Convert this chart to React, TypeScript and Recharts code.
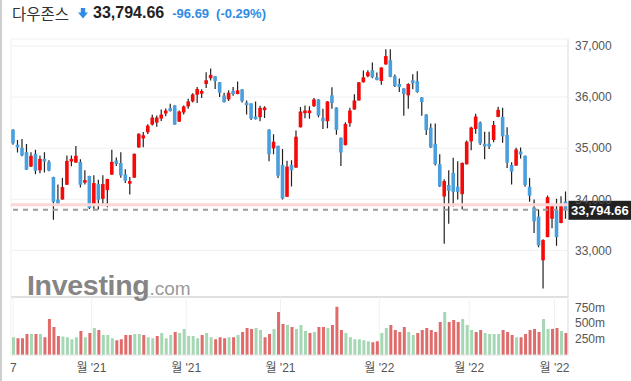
import React from 'react'
import { ComposedChart, Bar, XAxis, YAxis, CartesianGrid, ReferenceLine, Cell } from 'recharts'

// daily Dow Jones candles, Sep 7 2021 .. Mar 3 2022
const OPEN = [
  35363, 35068, 35008, 34923, 34640, 34890, 34568, 34791, 34732, 34436,
  33996, 33996, 34285, 34739, 34719, 34732, 34325, 34456, 33911, 34298,
  34009, 34180, 34482, 34759, 34712, 34489, 34305, 34423, 35015, 35192,
  35311, 35462, 35501, 35580, 35679, 35784, 35837, 35521, 35698, 35817,
  35915, 36047, 36067, 36257, 36369, 36408, 36290, 36034, 35955, 36119,
  36060, 36152, 35896, 35876, 35620, 35606, 35744, 35363, 34995, 35048,
  34673, 34049, 34673, 34620, 35409, 35685, 35685, 35823, 35955, 35593,
  35528, 36034, 35797, 35205, 35061, 35488, 35758, 35935, 36290, 36408,
  36527, 36388, 36316, 36639, 36724, 36408, 36257, 36172, 36034, 36330,
  36310, 35994, 35659, 35403, 35087, 34686, 34055, 34279, 34515, 34246,
  34101, 34686, 35133, 35377, 35501, 35087, 35087, 35160, 35613, 35613,
  35258, 34673, 34660, 34936, 34851, 34246, 33838, 33661, 32806, 33260,
  33621, 33786, 33536, 33957,
]
const HIGH = [
  35370, 35160, 35179, 35081, 34923, 34969, 34857, 34923, 34765, 34440,
  34292, 34417, 34857, 34857, 35041, 34785, 34568, 34460, 34469, 34384,
  34469, 34400, 34969, 34818, 34923, 34588, 34436, 34895, 35290, 35317,
  35469, 35653, 35640, 35758, 35777, 35869, 35840, 35738, 35837, 35968,
  36073, 36198, 36152, 36487, 36560, 36412, 36295, 36086, 36132, 36198,
  36303, 36156, 35935, 35880, 35915, 35830, 35823, 35370, 35271, 35050,
  34982, 34752, 34765, 35344, 35804, 35837, 35823, 35981, 35960, 35771,
  35920, 36191, 35800, 35210, 35508, 35790, 36054, 36295, 36520, 36526,
  36678, 36481, 36585, 36934, 36934, 36441, 36362, 36175, 36270, 36448,
  36507, 36000, 35665, 35482, 35482, 34883, 34390, 34568, 34811, 34745,
  34720, 35153, 35422, 35672, 35521, 35324, 35324, 35534, 35810, 35790,
  35409, 34726, 35008, 35015, 34855, 34417, 33996, 33799, 33220, 34075,
  33911, 34009, 34062, 34154,
]
const LOW = [
  35068, 34916, 34844, 34575, 34634, 34489, 34509, 34522, 34548, 33602,
  33890, 33990, 34280, 34647, 34715, 34233, 34292, 33812, 33779, 33799,
  33884, 33845, 34478, 34653, 34423, 34318, 34095, 34420, 35010, 35021,
  35278, 35442, 35422, 35534, 35626, 35720, 35460, 35515, 35659, 35771,
  35896, 35883, 35981, 36178, 36323, 36159, 36001, 35896, 35922, 36027,
  36055, 35896, 35659, 35554, 35562, 35528, 35593, 34745, 34883, 34417,
  33996, 34045, 34252, 34615, 35405, 35587, 35574, 35804, 35606, 35377,
  35390, 35771, 35265, 34653, 35055, 35422, 35752, 35930, 36285, 36388,
  36369, 36330, 36244, 36635, 36390, 36198, 36100, 35633, 35771, 36152,
  36086, 35633, 35258, 35002, 34660, 34239, 33128, 33523, 33858, 33996,
  33799, 34680, 34962, 35284, 35061, 34785, 34982, 35114, 35608, 35107,
  34614, 34292, 34655, 34798, 34246, 33950, 33339, 33063, 32254, 33255,
  33431, 33089, 33530, 33621,
]
const CLOSE = [
  35094, 35015, 34857, 34581, 34851, 34561, 34791, 34739, 34561, 33950,
  33898, 34239, 34752, 34791, 34851, 34285, 34377, 33832, 34318, 33990,
  34298, 34397, 34732, 34693, 34469, 34364, 34357, 34890, 35284, 35252,
  35442, 35600, 35600, 35659, 35738, 35725, 35462, 35718, 35817, 35915,
  36054, 36159, 36119, 36330, 36435, 36316, 36086, 35902, 36086, 36060,
  36132, 35922, 35843, 35580, 35567, 35790, 35797, 34883, 35127, 34463,
  34016, 34640, 34568, 35225, 35718, 35738, 35738, 35955, 35639, 35528,
  35915, 35883, 35357, 34916, 35475, 35738, 35935, 36290, 36388, 36487,
  36388, 36336, 36579, 36803, 36395, 36218, 36198, 36060, 36257, 36270,
  36100, 35902, 35357, 35015, 34686, 34252, 34357, 34167, 34147, 34147,
  34712, 35127, 35403, 35620, 35094, 35035, 35035, 35455, 35751, 35232,
  34719, 34542, 34975, 34877, 34279, 34068, 33569, 33096, 33201, 34042,
  33865, 33260, 33865, 33795,
]
// volume in millions, and whether the bar is drawn green (1) or red (0)
const VOLUME = [
  281, 265, 265, 329, 329, 329, 329, 281, 567, 440,
  297, 292, 281, 249, 281, 376, 281, 345, 424, 392,
  313, 313, 265, 233, 249, 313, 313, 329, 329, 313,
  281, 265, 297, 345, 265, 313, 360, 345, 408, 297,
  297, 265, 313, 345, 281, 249, 281, 265, 281, 281,
  313, 360, 424, 408, 424, 392, 281, 329, 408, 678,
  488, 472, 440, 408, 472, 376, 345, 360, 440, 440,
  424, 472, 758, 392, 345, 281, 249, 249, 233, 217,
  201, 217, 345, 424, 472, 392, 360, 440, 360, 313,
  345, 392, 424, 392, 360, 519, 678, 519, 551, 519,
  567, 472, 392, 360, 392, 345, 329, 329, 329, 392,
  360, 313, 281, 281, 329, 392, 408, 360, 567, 408,
  408, 424, 376, 345,
]
const VOLUME_UP = [
  1, 0, 0, 0, 1, 0, 1, 0, 0, 0,
  0, 1, 1, 1, 1, 0, 1, 0, 1, 0,
  1, 1, 1, 0, 0, 0, 0, 1, 1, 0,
  1, 1, 0, 1, 1, 1, 0, 1, 1, 1,
  1, 1, 0, 1, 1, 0, 0, 0, 1, 0,
  1, 0, 0, 0, 1, 1, 0, 0, 1, 0,
  0, 1, 0, 1, 1, 1, 0, 1, 0, 0,
  1, 0, 0, 0, 1, 1, 1, 1, 1, 1,
  0, 0, 1, 1, 0, 0, 0, 0, 1, 1,
  0, 0, 0, 0, 0, 0, 1, 0, 0, 0,
  1, 1, 1, 0, 0, 1, 1, 1, 1, 0,
  0, 0, 1, 0, 0, 0, 0, 0, 1, 1,
  0, 0, 1, 0,
]

const PRICE_TICKS = [33000, 34000, 35000, 36000, 37000]
const VOLUME_TICKS = [250, 500, 750]
const X_TICKS = [0, 17.4, 38.5, 59.5, 81.5, 101.5, 120.5]
const X_LABELS = ['7', "월 '21", "월 '21", "월 '21", "월 '22", "월 '22", "월 '22"]

const TITLE = '다우존스'
const LAST_PRICE = 33794.66
const PREV_CLOSE = 33891.35
const CHANGE = -96.69
const CHANGE_PCT = -0.29

const UP = '#f50a0a'
const DOWN = '#4a9fdc'
const VOL_UP = '#a6d7b5'
const VOL_DOWN = '#e06b6b'
const FONT = "'Liberation Sans', Arial, 'Noto Sans CJK KR', sans-serif"

const candles = OPEN.map((o, i) => ({
  i,
  o,
  h: HIGH[i],
  l: LOW[i],
  c: CLOSE[i],
  range: [LOW[i], HIGH[i]],
  vol: VOLUME[i],
  volUp: VOLUME_UP[i],
}))

function Candle(props: any) {
  const { x, y, width, height, payload } = props
  if (!payload || x == null) return null
  const top = Math.min(y, y + height)
  const h = Math.abs(height)
  const px = h / (payload.h - payload.l || 1)
  const cx = x + width / 2
  const bodyTop = top + (payload.h - Math.max(payload.o, payload.c)) * px
  const bodyH = Math.max(1, Math.abs(payload.o - payload.c) * px)
  return (
    <g>
      <line x1={cx} x2={cx} y1={top} y2={top + h} stroke="#222" strokeWidth={1.2} />
      <rect x={cx - 1.8} y={bodyTop} width={3.6} height={bodyH} fill={payload.c >= payload.o ? UP : DOWN} />
    </g>
  )
}

function PriceTag(props: any) {
  const vb = props.viewBox
  if (!vb) return null
  const x = vb.x + vb.width
  return (
    <g>
      <rect x={x} y={vb.y - 9} width={63} height={19} fill="#222" />
      <text x={x + 3} y={vb.y + 5} fill="#fff" fontSize={13} fontWeight="bold" fontFamily={FONT}>
        {LAST_PRICE.toLocaleString('en-US', { minimumFractionDigits: 2 })}
      </text>
    </g>
  )
}

const fmtPrice = (v: number) => v.toLocaleString('en-US')
const fmtX = (v: number) => X_LABELS[X_TICKS.indexOf(v)] ?? ''

export default function App() {
  return (
    <div style={{ position: 'absolute', left: 0, top: 0, width: 631, height: 381, background: '#fff', fontFamily: FONT, overflow: 'hidden' }}>
      <div style={{ position: 'absolute', left: 0, top: 0, bottom: 0, borderLeft: '2px solid #cfcfcf' }} />

      <div style={{ position: 'absolute', left: 12, top: 3, height: 20, display: 'flex', alignItems: 'center', whiteSpace: 'nowrap' }}>
        <span style={{ fontSize: 15.5, color: '#333' }}>{TITLE}</span>
        <svg width={10} height={11} style={{ marginLeft: 9 }}>
          <rect x={2.8} y={0} width={4.4} height={5} fill="#2f8be4" />
          <polygon points="0,4.5 10,4.5 5,10.5" fill="#2f8be4" />
        </svg>
        <span style={{ fontSize: 16, fontWeight: 'bold', color: '#222', marginLeft: 5 }}>
          {LAST_PRICE.toLocaleString('en-US', { minimumFractionDigits: 2 })}
        </span>
        <span style={{ fontSize: 13, color: '#2f8be4', marginLeft: 8, fontWeight: 600 }}>{CHANGE.toFixed(2)}</span>
        <span style={{ fontSize: 13, color: '#2f8be4', marginLeft: 7, fontWeight: 600 }}>({CHANGE_PCT.toFixed(2)}%)</span>
      </div>

      <div style={{ position: 'absolute', left: 0, top: 0 }}>
        <ComposedChart width={631} height={300} data={candles} margin={{ top: 39, right: 0, bottom: 0, left: 11 }}>
          <CartesianGrid stroke="#f1f1f1" yAxisId="price" />
          <XAxis type="number" dataKey="i" domain={[-0.5, 123.5]} ticks={X_TICKS} interval={0} tick={false} tickLine={false} axisLine={{ stroke: '#c8c8c8' }} height={3} />
          <YAxis yAxisId="price" orientation="right" domain={[32088, 37137]} allowDataOverflow ticks={PRICE_TICKS} interval={0} width={63}
            tickLine={false} tickSize={5} tickMargin={2} axisLine={{ stroke: '#e2e2e2' }}
            tick={{ fill: '#555', fontSize: 12, fontFamily: FONT }} tickFormatter={fmtPrice} />
          <ReferenceLine yAxisId="price" y={PREV_CLOSE} stroke="#ffd6d6" strokeWidth={3} />
          <Bar yAxisId="price" dataKey="range" barSize={4} shape={<Candle />} isAnimationActive={false} />
          <ReferenceLine yAxisId="price" y={LAST_PRICE} stroke="#9c9c9c" strokeWidth={2} strokeDasharray="5 5" label={<PriceTag />} />
        </ComposedChart>
      </div>

      <div style={{ position: 'absolute', left: 27, top: 271, whiteSpace: 'nowrap', fontFamily: FONT, lineHeight: 1 }}>
        <span style={{ fontSize: 28.5, fontWeight: 'bold', color: '#858585', letterSpacing: -0.3 }}>Investing</span>
        <span style={{ fontSize: 19, color: '#9a9a9a' }}>.com</span>
      </div>

      <div style={{ position: 'absolute', left: 0, top: 297 }}>
        <ComposedChart width={631} height={84} data={candles} margin={{ top: 0, right: 0, bottom: 0, left: 11 }}>
          <CartesianGrid stroke="#f1f1f1" horizontal={false} />
          <XAxis type="number" dataKey="i" domain={[-0.5, 123.5]} ticks={X_TICKS} interval={0} tickFormatter={fmtX}
            tickLine={false} axisLine={{ stroke: '#e2e2e2' }} height={26}
            tick={{ fill: '#555', fontSize: 12, fontFamily: FONT }} />
          <YAxis orientation="right" domain={[0, 912]} allowDataOverflow ticks={VOLUME_TICKS} interval={0} width={63}
            tickLine={false} tickSize={5} tickMargin={2} axisLine={{ stroke: '#e2e2e2' }}
            tick={{ fill: '#555', fontSize: 12, fontFamily: FONT }} tickFormatter={(v: number) => `${v}m`} />
          <Bar dataKey="vol" barSize={3} isAnimationActive={false}>
            {candles.map((d) => (
              <Cell key={d.i} fill={d.volUp ? VOL_UP : VOL_DOWN} />
            ))}
          </Bar>
        </ComposedChart>
      </div>
    </div>
  )
}
